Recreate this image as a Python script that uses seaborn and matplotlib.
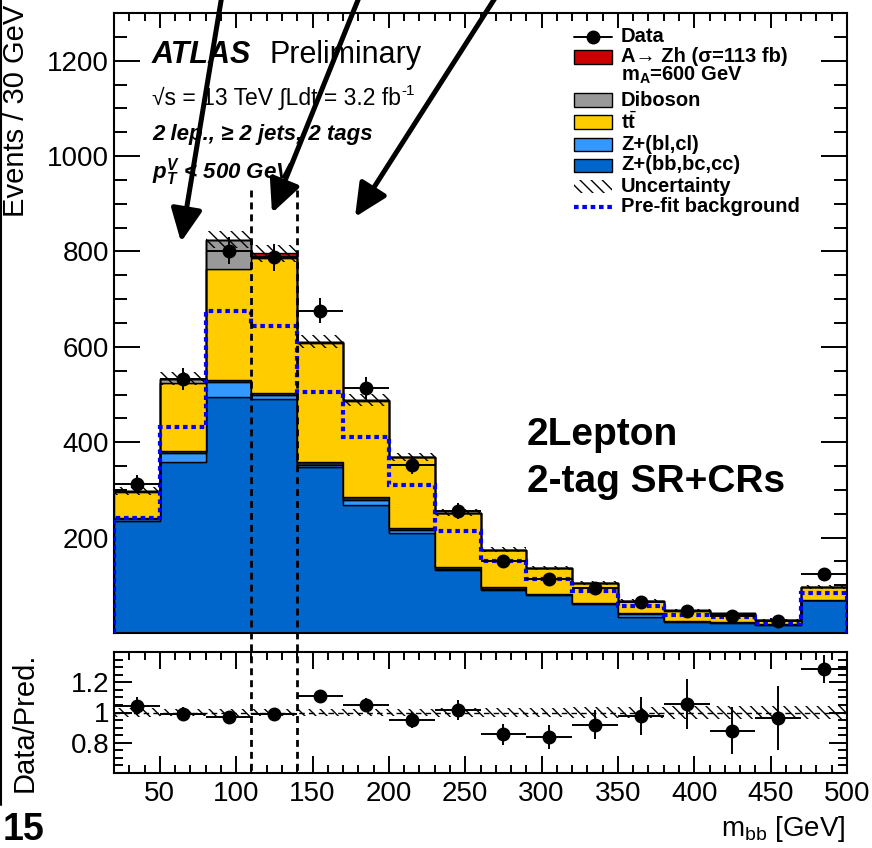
import numpy as np
import pandas as pd
import matplotlib
matplotlib.use("Agg")
import matplotlib.pyplot as plt
import matplotlib.transforms as mtransforms
from matplotlib.patches import Rectangle, FancyArrowPatch
from matplotlib.lines import Line2D
from matplotlib.ticker import MultipleLocator, FixedLocator, FixedFormatter
import seaborn as sns

# ---------------- data ----------------
edges = [20, 50, 80, 110, 140, 170, 200, 230, 260, 290, 320, 350, 380, 410, 440, 470, 500]
zbb = [235, 358, 494, 490, 348, 268, 209, 132, 90, 80, 61, 34, 24, 22, 17, 69]
zbl = [5, 19, 32, 9, 5, 11, 6, 2, 3, 1, 1, 6, 1, 1, 1, 1]
other = [2, 5, 5, 5, 6, 6, 5, 4, 4, 1, 1, 1, 0, 0, 0, 0]
ttbar = [53, 142, 233, 282, 249, 202, 148, 113, 77, 54, 41, 26, 22, 17, 9, 26]
diboson = [3, 9, 60, 3, 2, 2, 1, 1, 1, 1, 1, 1, 1, 1, 1, 1]
signal = [0, 0, 1, 7, 1, 0, 0, 0, 0, 0, 0, 0, 0, 0, 0, 0]
data = [313, 533, 802, 788, 676, 513, 352, 256, 150, 114, 95, 64, 47, 36, 26, 124]
data_err = [18, 23, 28, 28, 26, 23, 19, 16, 12, 11, 10, 8, 7, 6, 5, 11]
prefit = [241, 431, 676, 644, 506, 410, 310, 213, 150, 114, 88, 57, 38, 34, 22, 83]
rel_unc = [0.03, 0.025, 0.022, 0.022, 0.022, 0.025, 0.025, 0.028, 0.03, 0.03,
           0.035, 0.035, 0.04, 0.04, 0.045, 0.045]
ratio = [1.043, 0.99, 0.97, 0.987, 1.108, 1.05, 0.952, 1.017, 0.855, 0.838,
         0.92, 0.978, 1.054, 0.88, 0.963, 1.288]
ratio_err = [0.06, 0.045, 0.035, 0.035, 0.043, 0.046, 0.052, 0.064, 0.07, 0.08,
             0.095, 0.125, 0.165, 0.157, 0.21, 0.09]

procs = ["signal", "diboson", "ttbar", "other", "zbl", "zbb"]
colors = {"signal": "#CC0000", "diboson": "#999999", "ttbar": "#FFCC00",
          "other": "#2b2b2b", "zbl": "#3399FF", "zbb": "#0066CC"}

edges_a = np.array(edges, dtype=float)
centers = 0.5 * (edges_a[:-1] + edges_a[1:])
halfw = 0.5 * np.diff(edges_a)
series = {"signal": signal, "diboson": diboson, "ttbar": ttbar,
          "other": other, "zbl": zbl, "zbb": zbb}
df = pd.DataFrame({
    "mbb": np.tile(centers, len(procs)),
    "events": np.concatenate([series[p] for p in procs]),
    "process": np.repeat(procs, len(centers)),
})
total = np.sum([np.array(series[p], float) for p in procs], axis=0)
rel = np.array(rel_unc)

# ---------------- style ----------------
sns.set_style("ticks")
plt.rcParams["font.family"] = ["Liberation Sans", "DejaVu Sans"]
plt.rcParams["mathtext.fontset"] = "custom"
plt.rcParams["mathtext.rm"] = "Liberation Sans"
plt.rcParams["mathtext.it"] = "Liberation Sans:italic"
plt.rcParams["mathtext.bf"] = "Liberation Sans:bold"
plt.rcParams["mathtext.bfit"] = "Liberation Sans:bold:italic"
plt.rcParams["hatch.linewidth"] = 1.0
for k in ("text.color", "axes.labelcolor", "xtick.color", "ytick.color",
          "axes.edgecolor"):
    plt.rcParams[k] = "black"

HATCH = "\\\\\\"

W, H = 872, 848
fig = plt.figure(figsize=(W / 100, H / 100), dpi=100)


def fx(px):
    return px / W


def fy(py):
    return 1 - py / H


ax = fig.add_axes([fx(114), fy(633), (847 - 114) / W, (633 - 13) / H])
axr = fig.add_axes([fx(114), fy(773), (847 - 114) / W, (773 - 652) / H])

# ---------------- main panel ----------------
sns.histplot(data=df, x="mbb", weights="events", hue="process", hue_order=procs,
             multiple="stack", bins=edges, element="step", fill=True,
             palette=colors, edgecolor="black", linewidth=1.0, alpha=1,
             legend=False, ax=ax)

ax.stairs(total * (1 + rel), edges, baseline=total * (1 - rel), fill=True,
          facecolor="none", edgecolor="black", hatch=HATCH, lw=0, zorder=5)
ax.stairs(prefit, edges, color="#0000FF", lw=3.0, linestyle=(0, (1.1, 0.9)),
          zorder=6)
ax.errorbar(centers, data, xerr=halfw, yerr=data_err, fmt="o", color="black",
            ms=9, elinewidth=1.4, capsize=0, zorder=10)

ax.set_xlim(20, 500)
ax.set_ylim(0, 1300)
ax.set_xlabel("")
ax.set_ylabel("")
ax.yaxis.set_major_locator(FixedLocator([200, 400, 600, 800, 1000, 1200]))
ax.yaxis.set_minor_locator(MultipleLocator(50))
ax.xaxis.set_major_locator(MultipleLocator(50))
ax.xaxis.set_minor_locator(MultipleLocator(10))
ax.tick_params(which="both", direction="in", top=True, right=True, width=1.4,
               labelbottom=False, labelsize=20, colors="black")
ax.tick_params(axis="y", which="major", length=19)
ax.tick_params(axis="y", which="minor", length=9.5)
ax.tick_params(axis="x", which="major", length=10.5)
ax.tick_params(axis="x", which="minor", length=5.5)

# ---------------- ratio panel ----------------
axr.stairs(1 + rel, edges, baseline=1 - rel, fill=True, facecolor="none",
           edgecolor="black", hatch=HATCH, lw=0, zorder=2)
axr.axhline(1, color="black", lw=1.0, ls=(0, (4, 3)), zorder=3)
axr.errorbar(centers, ratio, xerr=halfw, yerr=ratio_err, fmt="o", color="black",
             ms=9, elinewidth=1.4, capsize=0, zorder=10)
axr.set_xlim(20, 500)
axr.set_ylim(0.6, 1.4)
axr.yaxis.set_major_locator(FixedLocator([0.8, 1.0, 1.2]))
axr.yaxis.set_major_formatter(FixedFormatter(["0.8", "1", "1.2"]))
axr.yaxis.set_minor_locator(MultipleLocator(0.05))
axr.xaxis.set_major_locator(MultipleLocator(50))
axr.xaxis.set_minor_locator(MultipleLocator(10))
axr.tick_params(which="both", direction="in", top=True, right=True, width=1.4,
                labelsize=20, colors="black")
axr.tick_params(axis="y", which="major", length=13)
axr.tick_params(axis="y", which="minor", length=6.5)
axr.tick_params(axis="x", which="major", length=12, pad=6)
axr.tick_params(axis="x", which="minor", length=6)
axr.set_xlabel("")
axr.set_ylabel("")

for a in (ax, axr):
    for s in a.spines.values():
        s.set_linewidth(1.5)
        s.set_visible(True)
        s.set_color("black")

# ---------------- dashed Higgs-window lines ----------------
btr = mtransforms.blended_transform_factory(ax.transData, fig.transFigure)
for xv in (110, 140):
    fig.add_artist(Line2D([xv, xv], [fy(190), fy(775)], transform=btr,
                          color="black", lw=2.0, ls=(0, (2.5, 1.8)), zorder=20))

# ---------------- texts ----------------
fig.text(fx(16), fy(5), "Events / 30 GeV", rotation=90, ha="center", va="top",
         fontsize=21)
fig.text(fx(25), fy(722), "Data/Pred.", rotation=90, ha="center", va="center",
         fontsize=21)
fig.text(fx(845), fy(836), r"m$_{\mathrm{bb}}$ [GeV]", ha="right",
         va="baseline", fontsize=20)
fig.text(fx(3), fy(840), "15", ha="left", va="baseline", fontsize=27,
         fontweight="bold")

fig.text(fx(152), fy(63), "ATLAS", fontsize=22, fontweight="bold",
         fontstyle="italic", va="baseline")
fig.text(fx(270), fy(63), "Preliminary", fontsize=22, va="baseline")
t_lumi = fig.text(fx(152), fy(105), "\u221as = 13 TeV \u222bLdt = 3.2 fb",
                  fontsize=16.5, va="baseline")
fig.canvas.draw()
bb = t_lumi.get_window_extent(renderer=fig.canvas.get_renderer())
fig.text(bb.x1 / W + 0.001, fy(95), "-1", fontsize=11, va="baseline")
fig.text(fx(152), fy(140), "2 lep., \u2265 2 jets, 2 tags", fontsize=16,
         fontweight="bold", fontstyle="italic", va="baseline")
fig.text(fx(152), fy(178),
         r"$\mathbfit{p}_{\mathbfit{T}}^{\mathbfit{V}}$ < 500 GeV",
         fontsize=16, fontweight="bold", fontstyle="italic", va="baseline")

fig.text(fx(527), fy(445), "2Lepton", fontsize=28, fontweight="bold",
         va="baseline")
fig.text(fx(527), fy(492), "2-tag SR+CRs", fontsize=28, fontweight="bold",
         va="baseline")

# ---------------- legend (manual, ROOT style) ----------------
lx0, lx1, tx = 574, 612, 621
leg_fs = 14.5
fig.add_artist(Line2D([fx(lx0), fx(lx1)], [fy(37), fy(37)], color="black",
                      lw=1.4))
fig.add_artist(Line2D([fx(593)], [fy(37)], marker="o", ms=9, color="black"))
fig.text(fx(tx), fy(37), "Data", fontsize=leg_fs, fontweight="bold",
         va="center")

box_entries = [
    (57, colors["signal"], "A\u2192 Zh (\u03c3=113 fb)"),
    (100, colors["diboson"], "Diboson"),
    (122, colors["ttbar"], r"t$\bar{\mathbf{t}}$"),
    (144, colors["zbl"], "Z+(bl,cl)"),
    (165, colors["zbb"], "Z+(bb,bc,cc)"),
]
for yc, col, lab in box_entries:
    fig.add_artist(Rectangle((fx(lx0), fy(yc + 6.5)), (lx1 - lx0) / W, 13 / H,
                             transform=fig.transFigure, facecolor=col,
                             edgecolor="black", lw=1.0))
    fig.text(fx(tx), fy(yc), lab, fontsize=leg_fs, fontweight="bold",
             va="center")
fig.text(fx(tx), fy(75), r"m$_{\mathbf{A}}$=600 GeV", fontsize=leg_fs,
         fontweight="bold", va="center")
fig.add_artist(Rectangle((fx(lx0), fy(186 + 6.5)), (lx1 - lx0) / W, 13 / H,
                         transform=fig.transFigure, facecolor="none",
                         edgecolor="black", hatch=HATCH, lw=0))
fig.text(fx(tx), fy(186), "Uncertainty", fontsize=leg_fs, fontweight="bold",
         va="center")
fig.add_artist(Line2D([fx(lx0), fx(lx1)], [fy(207), fy(207)], color="#0000FF",
                      lw=3.0, ls=(0, (1.1, 0.9))))
fig.text(fx(tx), fy(207), "Pre-fit background", fontsize=leg_fs,
         fontweight="bold", va="center")

# ---------------- slide annotations ----------------
fig.add_artist(Line2D([fx(1), fx(1)], [fy(0), fy(805)], color="black", lw=1.5))
for (x0, y0, x1, y1) in [(222, -5, 181, 242), (360, -5, 272, 213),
                         (497, -5, 355, 217)]:
    arr = FancyArrowPatch((fx(x0), fy(y0)), (fx(x1), fy(y1)),
                          transform=fig.transFigure,
                          arrowstyle="-|>,head_length=20,head_width=9.5",
                          mutation_scale=1, lw=3.6, color="black",
                          shrinkA=0, shrinkB=0, zorder=30)
    fig.add_artist(arr)

fig.savefig("out.png", dpi=100)
